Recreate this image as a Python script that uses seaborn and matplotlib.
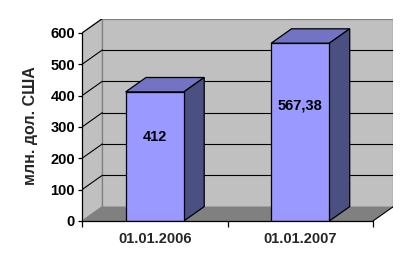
import matplotlib
matplotlib.use("Agg")
import matplotlib.pyplot as plt
from matplotlib.patches import Polygon
from matplotlib.lines import Line2D
import seaborn as sns
import pandas as pd

# ---- data ----
dates = ["01.01.2006", "01.01.2007"]
values = [412, 567.38]
value_labels = ["412", "567,38"]
y_ticks = [0, 100, 200, 300, 400, 500, 600]
y_label = "млн. дол. США"

# ---- style ----
sns.set_style("white")
plt.rcParams["font.family"] = ["Liberation Sans", "DejaVu Sans"]

FRONT = "#9999ff"
TOP = "#7373c4"
SIDE = "#4a5082"
WALL = "#c0c0c0"
FLOOR = "#808080"
EDGE_GRAY = "#808080"

W, H = 409, 272
fig = plt.figure(figsize=(W / 100, H / 100), dpi=100)
fig.patch.set_facecolor("white")

# depth offset in data units
DX = 0.14
DY = 46.0
YMAX = y_ticks[-1]

# axes placement: front plane x -0.5..1.5 -> px 82..373 ; y 0..600 -> px 221..33
px_per_x = (373 - 82) / 2.0
px_per_y = (221 - 33) / YMAX
x_left_px = 82
x_right_px = 82 + (2.0 + DX) * px_per_x
y_bot_px = 221
y_top_px = 221 - (YMAX + DY) * px_per_y
ax = fig.add_axes([x_left_px / W, 1 - y_bot_px / H,
                   (x_right_px - x_left_px) / W, (y_bot_px - y_top_px) / H])

df = pd.DataFrame({"date": dates, "value": values})
sns.barplot(data=df, x="date", y="value", width=0.4, color=FRONT,
            saturation=1, edgecolor="black", linewidth=0.9, ax=ax, zorder=5)

x0, x1 = -0.5, 1.5
ax.set_xlim(x0, x1 + DX)
ax.set_ylim(0, YMAX + DY)

# back wall
ax.add_patch(Polygon([(x0 + DX, DY), (x1 + DX, DY), (x1 + DX, YMAX + DY), (x0 + DX, YMAX + DY)],
                     closed=True, facecolor=WALL, edgecolor=EDGE_GRAY, linewidth=0.9, zorder=0))
# left side wall
ax.add_patch(Polygon([(x0, 0), (x0 + DX, DY), (x0 + DX, YMAX + DY), (x0, YMAX)],
                     closed=True, facecolor=WALL, edgecolor=EDGE_GRAY, linewidth=0.9, zorder=0.5))
# floor
ax.add_patch(Polygon([(x0, 0), (x0 + DX, DY), (x1 + DX, DY), (x1, 0)],
                     closed=True, facecolor=FLOOR, edgecolor="none", zorder=0.6))
ax.add_line(Line2D([x1, x1 + DX], [0, DY], color="black", linewidth=0.8, zorder=1))
ax.add_line(Line2D([x0, x1], [0, 0], color="black", linewidth=0.9, zorder=6, clip_on=False))

# gridlines
for v in y_ticks[1:-1]:
    ax.add_line(Line2D([x0 + DX, x1 + DX], [v + DY, v + DY], color="black", linewidth=0.8, zorder=1))
    ax.add_line(Line2D([x0, x0 + DX], [v, v + DY], color="black", linewidth=0.8, zorder=1))
ax.add_line(Line2D([x0, x0 + DX], [YMAX, YMAX + DY], color="black", linewidth=0.8, zorder=1))

# 3D faces of bars
for p, lab, v in zip(ax.patches, value_labels, values):
    bx, bw, bh = p.get_x(), p.get_width(), p.get_height()
    top = Polygon([(bx, bh), (bx + DX, bh + DY), (bx + bw + DX, bh + DY), (bx + bw, bh)],
                  closed=True, facecolor=TOP, edgecolor="black", linewidth=0.9, zorder=4)
    side = Polygon([(bx + bw, 0), (bx + bw + DX, DY), (bx + bw + DX, bh + DY), (bx + bw, bh)],
                   closed=True, facecolor=SIDE, edgecolor="black", linewidth=0.9, zorder=4)
    ax.add_patch(top)
    ax.add_patch(side)
    ax.text(bx + bw / 2, v * 0.65, lab, ha="center", va="center",
            fontsize=10.5, fontweight="bold", color="black", zorder=7)

# axes styling
for s in ["top", "right", "bottom"]:
    ax.spines[s].set_visible(False)
ax.spines["left"].set_bounds(0, YMAX)
ax.spines["left"].set_linewidth(0.9)
ax.spines["left"].set_color("black")
ax.spines["left"].set_zorder(6)
ax.set_yticks(y_ticks)
ax.set_yticklabels([str(t) for t in y_ticks], fontsize=10.5, fontweight="bold")
ax.tick_params(axis="y", left=True, direction="out", length=3, width=0.9, pad=2, colors="black")
ax.set_xticks([0, 1])
ax.set_xticklabels(dates, fontsize=10.5, fontweight="bold")
ax.tick_params(axis="x", which="major", bottom=True, length=0, pad=8)
ax.set_xticks([x0, 0.5, x1], minor=True)
ax.tick_params(axis="x", which="minor", bottom=True, direction="out", length=4, width=0.9, colors="black")
ax.set_xlabel("")
ax.set_ylabel("")
ax.patch.set_alpha(0)

fig.text(31 / W, 1 - 125.5 / H, y_label, rotation=90, ha="center", va="center",
         fontsize=11.5, fontweight="bold")

fig.savefig("out.png", dpi=100, facecolor="white")
